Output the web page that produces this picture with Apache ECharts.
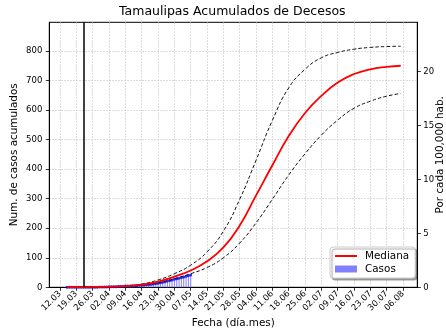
<!DOCTYPE html>
<html><head><meta charset="utf-8">
<script src="https://cdn.jsdelivr.net/npm/echarts@6/dist/echarts.min.js"></script>
<style>html,body{margin:0;padding:0;background:#fff}#c{width:446px;height:334px}</style>
</head><body><div id="c"></div>
<script>
// ---------- data ----------
const baseDate = '2020-03-12';
const xTickLabels = ['12.03','19.03','26.03','02.04','09.04','16.04','23.04','30.04','07.05','14.05','21.05','28.05','04.06','11.06','18.06','25.06','02.07','09.07','16.07','23.07','30.07','06.08'];
const leftTickValues = [0,100,200,300,400,500,600,700,800];
const rightTickValues = [0,5,10,15,20];
const curveDates = ['2020-03-15','2020-03-19','2020-03-26','2020-04-02','2020-04-09','2020-04-16','2020-04-23','2020-04-30','2020-05-07','2020-05-14','2020-05-21','2020-05-28','2020-06-04','2020-06-11','2020-06-18','2020-06-25','2020-07-02','2020-07-09','2020-07-16','2020-07-23','2020-07-30','2020-08-05'];
const medianValues = [0.3,0.6,1.2,2.2,4,9,19,36,57,88,135,209,311,413,512,590,648,693,722,738,746,750];
const upperValues  = [0.4,0.8,1.6,2.8,5,11,25,46,75,120,190,298,430,565,675,738,777,795,806,812,815,816];
const lowerValues  = [0.2,0.5,1,1.8,3.2,7,15,29,46,67,100,150,218,298,380,452,515,566,606,630,647,656];
const casesStartDate = '2020-03-15';
const casesValues = [0,0,0,0,0,0,0, 0,0,0,0,0,0,0, 1,1,1,1,2,2,2, 2,3,3,3,4,4,4, 5,5,6,7,7,8,9, 9,10,11,13,14,15,17, 19,21,23,25,27,29,31, 33,35,37,40,42];
const lockdownDate = '2020-03-22';
const population = 3655000;

// ---------- helpers ----------
const DAY = 86400000;
const t0 = Date.parse(baseDate + 'T00:00:00Z');
const dayOf = s => (Date.parse(s + 'T00:00:00Z') - t0) / DAY;
const tickDays = xTickLabels.map(l => { const [d, m] = l.split('.'); return dayOf('2020-' + m + '-' + d); });
const labelOf = {}; tickDays.forEach((d, i) => labelOf[d] = xTickLabels[i]);
const pairs = vals => curveDates.map((d, i) => [dayOf(d), vals[i]]);
const caseStart = dayOf(casesStartDate);
const casePairs = casesValues.map((v, i) => [caseStart + i, v]);

const leftMax = 897;
const rightMax = leftMax / population * 100000;
const FONT = 'DejaVu Sans';
const gridLine = { show: true, lineStyle: { color: '#c4c4c4', width: 0.8, type: [1.5, 1.5] } };
const axisLine = { show: true, onZero: false, lineStyle: { color: '#000', width: 1 } };
const tick = { show: true, length: 3.5, inside: false, lineStyle: { color: '#000', width: 0.8 } };

const chart = echarts.init(document.getElementById('c'), null, { renderer: 'canvas' });
chart.setOption({
  animation: false,
  backgroundColor: '#fff',
  title: {
    text: 'Tamaulipas Acumulados de Decesos',
    left: 119, top: 5, padding: 0,
    textStyle: { fontFamily: FONT, fontSize: 12.5, fontWeight: 'normal', color: '#000' }
  },
  grid: { left: 49.3, right: 28.7, top: 22.3, bottom: 46.7, show: true, borderColor: '#000', borderWidth: 1, backgroundColor: 'transparent', containLabel: false, outerBoundsMode: 'none' },
  legend: {
    orient: 'vertical', left: 330, top: 247,
    padding: [4, 6, 4, 4], itemGap: 3, itemWidth: 22, itemHeight: 7,
    backgroundColor: '#fff', borderColor: '#cccccc', borderWidth: 1, borderRadius: 3,
    shadowColor: 'rgba(0,0,0,0.35)', shadowBlur: 1, shadowOffsetX: 2, shadowOffsetY: 2,
    textStyle: { fontFamily: FONT, fontSize: 10.4, color: '#000', padding: [0, 0, 0, 3] },
    data: [
      { name: 'Mediana', itemStyle: { color: 'rgba(0,0,0,0)', borderColor: 'rgba(0,0,0,0)', borderWidth: 0, opacity: 0 } },
      { name: 'Casos', icon: 'rect' }
    ]
  },
  xAxis: {
    type: 'value', min: -4.6, max: 153.1,
    axisLine, axisTick: Object.assign({ customValues: tickDays }, tick),
    axisLabel: { customValues: tickDays, rotate: 45, margin: 5, fontFamily: FONT, fontSize: 8.5, color: '#000', formatter: v => labelOf[v] || '' },
    splitLine: gridLine,
    name: 'Fecha (día.mes)', nameLocation: 'middle', nameGap: 31, nameMoveOverlap: false,
    nameTextStyle: { fontFamily: FONT, fontSize: 10.4, color: '#000' }
  },
  yAxis: [{
    type: 'value', min: 0, max: leftMax, position: 'left',
    axisLine, axisTick: Object.assign({ customValues: leftTickValues }, tick),
    axisLabel: { customValues: leftTickValues, margin: 7, fontFamily: FONT, fontSize: 8.5, color: '#000' },
    splitLine: gridLine,
    name: 'Num. de casos acumulados', nameLocation: 'middle', nameGap: 30, nameRotate: 90, nameMoveOverlap: false,
    nameTextStyle: { fontFamily: FONT, fontSize: 10.4, color: '#000' }
  }, {
    type: 'value', min: 0, max: rightMax, position: 'right',
    axisLine, axisTick: Object.assign({ customValues: rightTickValues }, tick),
    axisLabel: { customValues: rightTickValues, margin: 6, fontFamily: FONT, fontSize: 8.5, color: '#000' },
    splitLine: { show: false },
    name: 'Por cada 100,000 hab.', nameLocation: 'middle', nameGap: 18, nameRotate: 90, nameMoveOverlap: false,
    nameTextStyle: { fontFamily: FONT, fontSize: 10.4, color: '#000' }
  }],
  series: [{
    name: 'Casos', type: 'bar', data: casePairs, barWidth: 1,
    itemStyle: { color: '#8080ff' }
  }, {
    name: 'CasosPuntos', type: 'scatter', data: casePairs, symbolSize: 3,
    itemStyle: { color: '#0000ff' }
  }, {
    name: 'Superior', type: 'line', data: pairs(upperValues), smooth: 0.5, symbol: 'none',
    lineStyle: { color: '#111', width: 1, type: [3.5, 2.2] }
  }, {
    name: 'Inferior', type: 'line', data: pairs(lowerValues), smooth: 0.5, symbol: 'none',
    lineStyle: { color: '#111', width: 1, type: [3.5, 2.2] }
  }, {
    name: 'Mediana', type: 'line', data: pairs(medianValues), smooth: 0.5, symbol: 'none',
    itemStyle: { color: '#ff0000' },
    lineStyle: { color: '#ff0000', width: 1.8 },
    markLine: {
      silent: true, symbol: 'none', label: { show: false },
      lineStyle: { color: '#000', width: 1.5, type: 'solid' },
      data: [{ xAxis: dayOf(lockdownDate) }]
    }
  }]
});
</script></body></html>
